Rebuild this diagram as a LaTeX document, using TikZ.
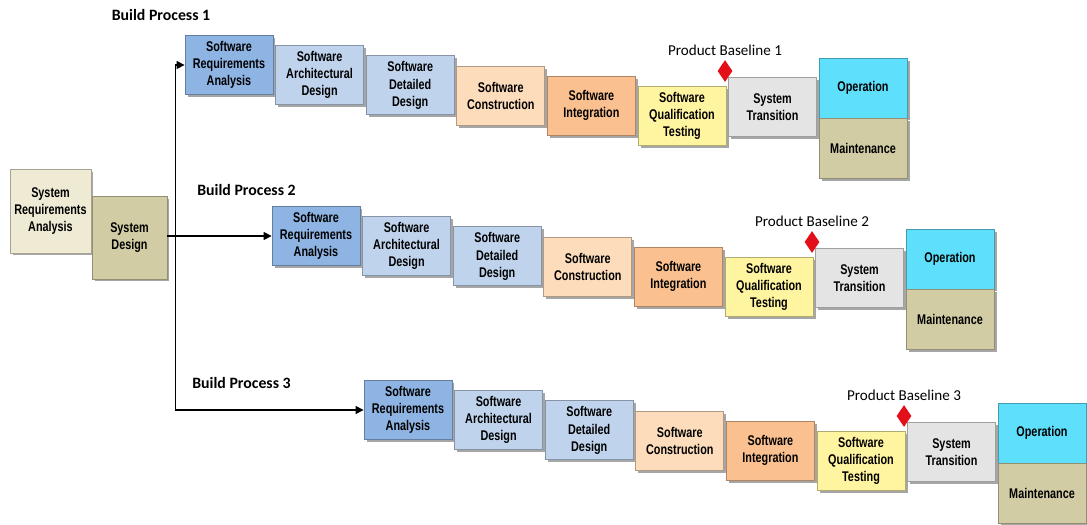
\documentclass[tikz,border=0pt]{standalone}
\usepackage{fontspec}
\setmainfont{Carlito}
\newfontfamily\boxfont[FakeStretch=0.77]{Liberation Sans}
\usetikzlibrary{arrows.meta,shapes.geometric,shadows,positioning}
\definecolor{reqblue}{HTML}{8EB4E3}
\definecolor{desblue}{HTML}{BFD3EC}
\definecolor{conpeach}{HTML}{FDDCBB}
\definecolor{intorange}{HTML}{FAC08F}
\definecolor{testyellow}{HTML}{FFF4A0}
\definecolor{transgray}{HTML}{E4E4E4}
\definecolor{opcyan}{HTML}{5EE0FC}
\definecolor{maintkhaki}{HTML}{D2CCA4}
\definecolor{sysreq}{HTML}{EEEAD4}
\definecolor{milered}{HTML}{E3101A}
\tikzset{
  stage/.style={draw=#1!70!black, line width=0.5pt, fill=#1,
    minimum width=1.76cm, minimum height=1.18cm, inner sep=1pt, align=center,
    font=\boxfont\bfseries\fontsize{8}{9.7}\selectfont,
    drop shadow={shadow xshift=0.05cm, shadow yshift=-0.05cm, opacity=0.35, fill=black}},
  build/.style={font=\bfseries\fontsize{9}{11}\selectfont},
  pbtext/.style={font=\fontsize{8.6}{10}\selectfont, inner sep=1pt},
  milestone/.style={diamond, fill=milered, minimum width=0.3cm, minimum height=0.44cm, inner sep=0pt},
  flow/.style={-{Triangle[length=4.5pt,width=4.5pt]}, line width=0.8pt}
}
\begin{document}
\begin{tikzpicture}[x=0.02cm, y=-0.02cm]
  \useasboundingbox (0,0) rectangle (1087,524);
  % System level
  \node[stage=sysreq, minimum width=1.62cm, minimum height=1.68cm] (sysreq) at (50.5,211) {System\\Requirements\\Analysis};
  \node[stage=maintkhaki, minimum width=1.5cm, minimum height=1.66cm] (sysdes) at (129.5,237.5) {System\\Design};

  % Three build processes
  \foreach \r/\dx/\dy/\lx/\ly in {1/0/0/161/15, 2/87/171/246.5/190, 3/179/345/241.5/383}{
    \node[build] (bp\r) at (\lx,\ly) {Build Process \r};
    \foreach \i/\nm/\txt/\col in {0/sra/{Software\\Requirements\\Analysis}/reqblue,
        1/sad/{Software\\Architectural\\Design}/desblue,
        2/sdd/{Software\\Detailed\\Design}/desblue,
        3/sc/{Software\\Construction}/conpeach,
        4/si/{Software\\Integration}/intorange,
        5/sqt/{Software\\Qualification\\Testing}/testyellow}
      \node[stage=\col] (\nm\r) at ({229+90.6*\i+\dx},{65+10.2*\i+\dy}) {\txt};
    \node[stage=transgray] (st\r) at (772.5+\dx,107+\dy) {System\\Transition};
    \node[stage=opcyan, minimum height=1.2cm] (op\r) at (863+\dx,88+\dy) {Operation};
    \node[stage=maintkhaki, minimum height=1.2cm, below=0pt of op\r] (mt\r) {Maintenance};
    % Product baseline
    \node[milestone] (pb\r) at (725+\dx,71+\dy) {};
    \node[pbtext, above=0.04cm of pb\r] (pbl\r) {Product Baseline \r};
  }

  % Arrows from System Design
  \path (sysdes.east |- sra2.west) ++(8,0) coordinate (fork);
  \draw[flow] (sysdes.east |- sra2.west) -- (sra2.west);
  \draw[flow] (fork) |- (sra1.west);
  \draw[flow] (fork) |- (sra3.west);
\end{tikzpicture}
\end{document}
